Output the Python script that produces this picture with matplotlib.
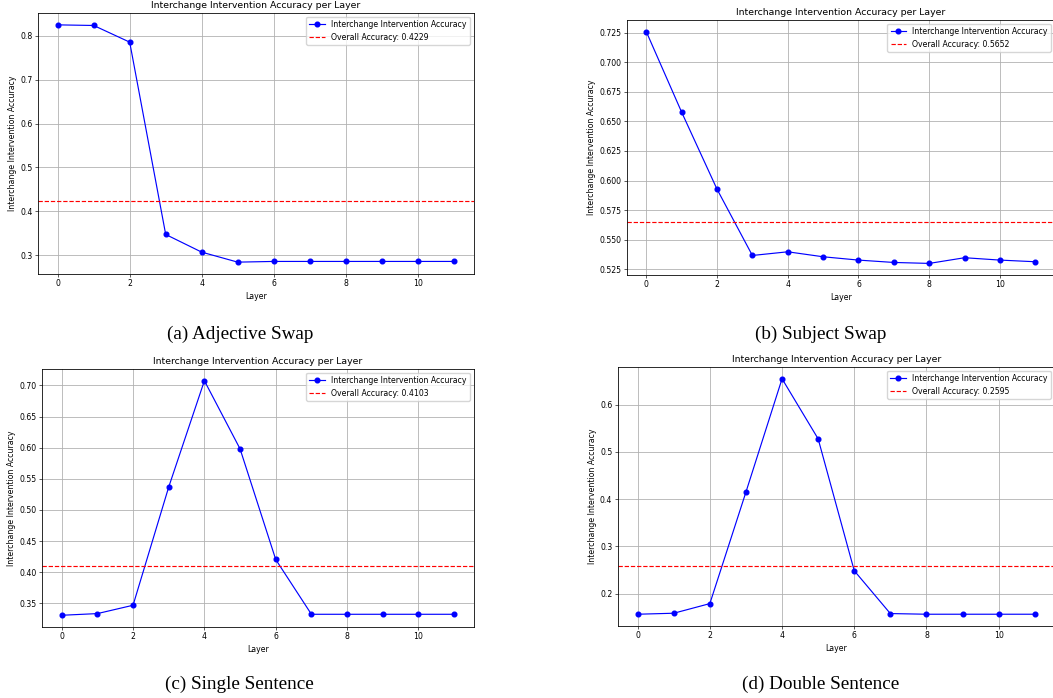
import matplotlib
matplotlib.use("Agg")
import matplotlib.pyplot as plt

layers = list(range(12))

acc_adjective = [0.825, 0.8236, 0.7856, 0.3471, 0.3068, 0.284, 0.2856, 0.2856, 0.2856, 0.2856, 0.2856, 0.2856]
overall_adjective = 0.4229

acc_subject = [0.7258, 0.6578, 0.5928, 0.5368, 0.5399, 0.5357, 0.5329, 0.5309, 0.5301, 0.5349, 0.5329, 0.5315]
overall_subject = 0.5652

acc_single = [0.3307, 0.3334, 0.3468, 0.5368, 0.7075, 0.598, 0.4203, 0.3323, 0.3323, 0.3323, 0.3323, 0.3323]
overall_single = 0.4103

acc_double = [0.1564, 0.1585, 0.1789, 0.4151, 0.6548, 0.5276, 0.2485, 0.1578, 0.1564, 0.1564, 0.1564, 0.1564]
overall_double = 0.2595

captions = ["(a) Adjective Swap", "(b) Subject Swap", "(c) Single Sentence", "(d) Double Sentence"]

W, H = 1053, 698
s = 0.56

fig = plt.figure(figsize=(W / 100, H / 100), dpi=100)

def add_ax(left, right, top, bottom):
    return fig.add_axes([left / W, 1 - bottom / H, (right - left) / W, (bottom - top) / H])

boxes = [
    (37.9, 473.5, 13, 274),
    (626.8, 1054.8, 20, 275),
    (42.1, 473.7, 369, 627),
    (617.8, 1054.6, 367, 626),
]
series = [acc_adjective, acc_subject, acc_single, acc_double]
overall = [overall_adjective, overall_subject, overall_single, overall_double]

for box, acc, ov in zip(boxes, series, overall):
    ax = add_ax(*box)
    ax.plot(layers, acc, marker='o', color='blue', linewidth=1.5 * s, markersize=6 * s,
            label='Interchange Intervention Accuracy')
    ax.axhline(ov, color='red', linestyle='--', linewidth=1.5 * s,
               label=f'Overall Accuracy: {ov:.4f}')
    ax.set_title('Interchange Intervention Accuracy per Layer', fontsize=12 * s, pad=6 * s)
    ax.set_xlabel('Layer', fontsize=10 * s, labelpad=4 * s)
    ax.set_ylabel('Interchange Intervention Accuracy', fontsize=10 * s, labelpad=4 * s)
    ax.tick_params(labelsize=10 * s, length=3.5 * s, width=0.8 * s, pad=3.5 * s)
    ax.grid(True, linewidth=0.8 * s * 1.3, color='#b0b0b0')
    for sp in ax.spines.values():
        sp.set_linewidth(0.8 * s * 1.3)
    ax.legend(loc='upper right', fontsize=10 * s, borderpad=0.4, handlelength=2.0)

cap_pos = [(240, 338.5), (820.5, 338.5), (239.5, 689), (820.5, 689)]
for (cx, cy), cap in zip(cap_pos, captions):
    fig.text(cx / W, 1 - cy / H, cap, ha='center', va='baseline',
             fontsize=13.8, family='Liberation Serif')

fig.savefig('out.png', dpi=100)
